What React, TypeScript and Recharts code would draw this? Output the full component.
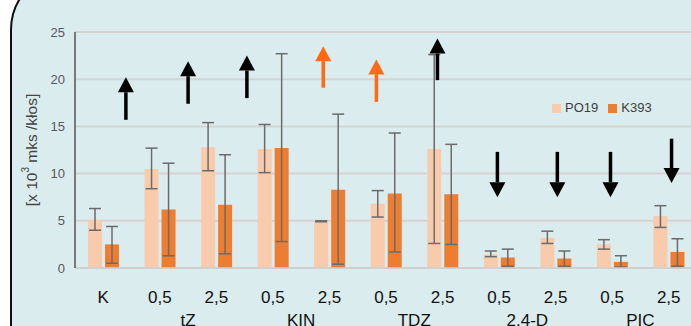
import {
  BarChart, Bar, XAxis, YAxis, CartesianGrid, Legend, ErrorBar, ReferenceLine,
} from "recharts";

const categories = ["K", "0,5", "2,5", "0,5", "2,5", "0,5", "2,5", "0,5", "2,5", "0,5", "2,5"];
const groups = ["tZ", "KIN", "TDZ", "2,4-D", "PIC"];
const groupTicks = [2, 4, 6, 8, 10];

const po19 = [5.1, 10.5, 12.8, 12.6, 4.95, 6.8, 12.6, 1.45, 3.2, 2.5, 5.5];
const po19Lo = [4.0, 8.4, 10.3, 10.1, 4.9, 5.4, 2.6, 1.2, 2.6, 2.0, 4.3];
const po19Hi = [6.3, 12.7, 15.4, 15.2, 5.0, 8.2, 22.6, 1.8, 3.9, 3.0, 6.6];
const k393 = [2.5, 6.2, 6.7, 12.7, 8.3, 7.9, 7.8, 1.1, 1.0, 0.65, 1.7];
const k393Lo = [0.5, 1.3, 1.5, 2.8, 0.4, 1.7, 2.5, 0.2, 0.2, 0.1, 0.2];
const k393Hi = [4.4, 11.1, 12.0, 22.7, 16.3, 14.3, 13.1, 2.0, 1.8, 1.3, 3.1];

// annotation arrows, in (category-position, value) space
const arrowX = [0.9, 2.0, 3.04, 4.39, 5.33, 6.41, 7.47, 8.53, 9.47, 10.55];
const arrowTail = [15.7, 17.4, 18.0, 19.1, 17.6, 19.9, 12.3, 12.3, 12.3, 13.7];
const arrowTip = [20.2, 21.9, 22.5, 23.5, 22.1, 24.3, 7.5, 7.5, 7.5, 9.0];
const arrowColor = ["#000", "#000", "#000", "#ff6a13", "#ff6a13", "#000", "#000", "#000", "#000", "#000"];

const data = categories.map((c, i) => ({
  cat: c,
  pos: i + 0.5,
  po19: po19[i],
  po19Err: [po19[i] - po19Lo[i], po19Hi[i] - po19[i]],
  k393: k393[i],
  k393Err: [k393[i] - k393Lo[i], k393Hi[i] - k393[i]],
}));

const FONT = "'Liberation Sans', Arial, sans-serif";

const arrowShape = (color: string) => (props: any) => {
  const { x1, y1, x2, y2 } = props;
  const dir = y2 < y1 ? 1 : -1; // 1 = pointing up
  const head = 15;
  const base = y2 + dir * head;
  return (
    <g>
      <line x1={x1} y1={y1} x2={x2} y2={base} stroke={color} strokeWidth={3.5} />
      <polygon points={`${x2},${y2} ${x2 - 8},${base} ${x2 + 8},${base}`} fill={color} />
    </g>
  );
};

const yLabel = (props: any) => {
  const { x, y, height } = props.viewBox;
  const cx = x + 11;
  const cy = y + height / 2;
  return (
    <text x={cx} y={cy} transform={`rotate(-90, ${cx}, ${cy})`} textAnchor="middle"
      dominantBaseline="central" fontSize={15.5} fill="#444" fontFamily={FONT}>
      [x 10<tspan dy={-6} fontSize={10}>3</tspan><tspan dy={6}> mks /kłos]</tspan>
    </text>
  );
};

export default function App() {
  return (
    <div style={{ position: "fixed", left: 0, top: 0, width: 691, height: 326, overflow: "hidden", background: "#fff" }}>
      <div style={{
        position: "absolute", left: 10, top: -30, width: 800, height: 500,
        background: "#daecee", border: "2px solid #111", borderTopLeftRadius: 60,
      }} />
      <div style={{ position: "absolute", left: 0, top: 0 }}>
        <BarChart width={700} height={326} data={data} barSize={14} barGap={3}
          margin={{ top: 17, right: 3, left: 20, bottom: 0 }} style={{ fontFamily: FONT }}>
          <CartesianGrid stroke="#d8d3d3" strokeWidth={2} vertical={false} />
          <XAxis xAxisId="cat" dataKey="cat" height={38} interval={0} tickLine={false}
            axisLine={{ stroke: "#cfcfcf", strokeWidth: 1.5 }} tickMargin={17}
            tick={{ fill: "#111", fontSize: 17 }} />
          <XAxis xAxisId="num" dataKey="pos" type="number" domain={[0, 11]} allowDataOverflow
            ticks={[0, ...groupTicks, 11]} interval={0}
            height={20} tickLine={false} axisLine={false} tickMargin={2}
            tickFormatter={(v: number) => groups[groupTicks.indexOf(v)] ?? ""}
            tick={{ fill: "#111", fontSize: 17 }} />
          <YAxis domain={[0, 25]} ticks={[0, 5, 10, 15, 20, 25]} width={55} tickLine={false}
            axisLine={{ stroke: "#555", strokeWidth: 1.5 }} tickMargin={4}
            tick={{ fill: "#595959", fontSize: 13 }}
            label={{ position: "insideLeft", content: yLabel }} />
          <Legend verticalAlign="top" align="left" iconType="square" iconSize={9}
            itemSorter={(item: any) => (item.value === "PO19" ? 0 : 1)}
            wrapperStyle={{ top: 100, left: 552, width: "auto", fontSize: 13 }}
            formatter={(v: string) => <span style={{ color: "#404040" }}>{v}</span>} />
          <Bar xAxisId="cat" dataKey="po19" name="PO19" fill="#f8cbad" isAnimationActive={false}>
            <ErrorBar dataKey="po19Err" width={6} stroke="#6b6b6b" strokeWidth={1.5} />
          </Bar>
          <Bar xAxisId="cat" dataKey="k393" name="K393" fill="#ed7d31" isAnimationActive={false}>
            <ErrorBar dataKey="k393Err" width={6} stroke="#6b6b6b" strokeWidth={1.5} />
          </Bar>
          {arrowX.map((x, i) => (
            <ReferenceLine key={i} xAxisId="num" ifOverflow="visible"
              segment={[{ x, y: arrowTail[i] }, { x, y: arrowTip[i] }]}
              shape={arrowShape(arrowColor[i])} />
          ))}
        </BarChart>
      </div>
    </div>
  );
}
